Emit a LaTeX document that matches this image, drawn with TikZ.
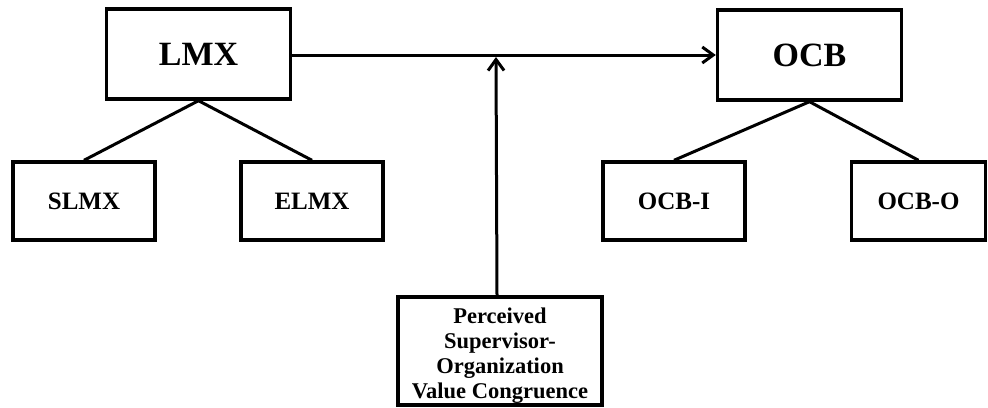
\documentclass[tikz,border=0pt]{standalone}
\usepackage{fontspec}
\setmainfont{Liberation Serif}
\usetikzlibrary{arrows.meta}
\begin{document}
\begin{tikzpicture}[x=1pt,y=-1pt,
  box/.style={draw,line width=3.4pt,inner sep=0pt,font=\bfseries},
  bigbox/.style={box,minimum width=184pt,minimum height=90pt,font=\fontsize{34}{38}\selectfont\bfseries},
  smallbox/.style={box,minimum width=142pt,minimum height=78pt,font=\fontsize{25}{28}\selectfont\bfseries},
  link/.style={line width=3pt},
  arr/.style={line width=3pt,-{Straight Barb[length=11pt,width=16pt,line width=3pt]}}]
\useasboundingbox (0,0) rectangle (988,407);
\node[bigbox] (lmx) at (198.5,54) {LMX};
\node[bigbox] (ocb) at (809.5,55) {OCB};
\node[smallbox] (slmx) at (84,201) {SLMX};
\node[smallbox] (elmx) at (312,201) {ELMX};
\node[smallbox] (ocbi) at (674,201) {OCB-I};
\node[smallbox,minimum width=134pt] (ocbo) at (918.5,201) {OCB-O};
\node[box,minimum width=204pt,minimum height=108pt] (pv) at (500,351) {};
\node[align=center,inner sep=0pt,font=\fontsize{22.5}{25}\selectfont\bfseries] (pvtext) at ([yshift=-5pt]pv.center)
  {Perceived\\Supervisor-\\Organization\\Value Congruence};
\draw[arr] (lmx.east |- 0,55) -- (ocb.west |- 0,55);
\coordinate (m) at (496,57);
\draw[arr] (pv.north -| 497,0) -- (m);
\draw[link] (slmx.north) -- (lmx.south) -- (elmx.north);
\draw[link] (ocbi.north) -- (ocb.south) -- (ocbo.north);
\end{tikzpicture}
\end{document}
